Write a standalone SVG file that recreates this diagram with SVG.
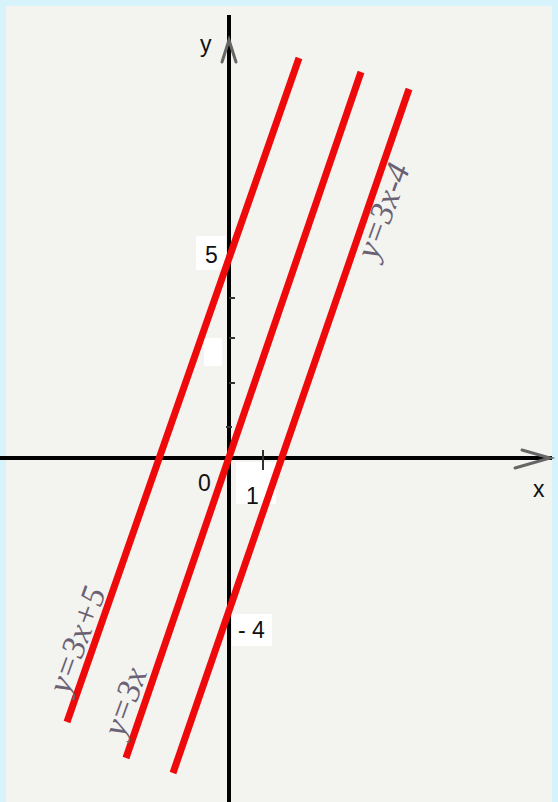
<svg xmlns="http://www.w3.org/2000/svg" width="558" height="802" viewBox="0 0 558 802">
<style>
.ax{stroke:#000;stroke-width:4;fill:none}
.tk{stroke:#333;stroke-width:2;fill:none}
.ah{stroke:#666;stroke-width:3;fill:none;stroke-linecap:round}
.ln{stroke:#ee0a0a;stroke-width:7;fill:none}
.lbl{font-family:"Liberation Sans",Arial,sans-serif;font-size:23px;fill:#111}
.hw{font-family:"Liberation Serif",serif;font-style:italic;font-size:34px;fill:#6a6274}
.wp{fill:#ffffff}
</style>
<rect x="0" y="0" width="558" height="802" fill="#d6f3fb"/>
<rect x="6" y="6" width="546" height="796" fill="#f3f3f0"/>
<g id="patches">
<rect class="wp" x="196" y="236" width="30" height="34"/>
<rect class="wp" x="204" y="338" width="18" height="28"/>
<rect class="wp" x="236" y="462" width="40" height="42"/>
<rect class="wp" x="232" y="614" width="40" height="32"/>
</g>
<g id="axes">
<line class="ax" x1="0" y1="458" x2="552" y2="458"/>
<line class="ax" x1="229" y1="15" x2="229" y2="802"/>
<polyline class="ah" points="522,450 550,458 515,468"/>
<polyline class="ah" points="222,62 229,40 236,62"/>
<line class="tk" x1="263" y1="450" x2="263" y2="470"/>
<line class="tk" x1="229" y1="298" x2="235" y2="298"/>
<line class="tk" x1="229" y1="338" x2="235" y2="338"/>
<line class="tk" x1="229" y1="383" x2="235" y2="383"/>
<line class="tk" x1="226" y1="427" x2="232" y2="427"/>
</g>
<g id="axis-labels">
<text class="lbl" x="200" y="52">y</text>
<text class="lbl" x="533" y="497">x</text>
<text class="lbl" x="198" y="491">0</text>
<text class="lbl" x="246" y="504">1</text>
<text class="lbl" x="205" y="263">5</text>
<text class="lbl" x="238" y="638">- 4</text>
</g>
<g id="connectors">
<line id="line-3x5" class="ln" x1="299" y1="58" x2="67" y2="722"/>
<line id="line-3x" class="ln" x1="361" y1="72" x2="126" y2="758"/>
<line id="line-3x-4" class="ln" x1="409" y1="89" x2="173" y2="773"/>
</g>
<g id="label-3x5"><text class="hw" transform="translate(78,640) rotate(-70)" text-anchor="middle" dy="10">y=3x+5</text></g>
<g id="label-3x"><text class="hw" transform="translate(126,702) rotate(-70)" text-anchor="middle" dy="10">y=3x</text></g>
<g id="label-3x-4"><text class="hw" transform="translate(384,211) rotate(-70)" text-anchor="middle" dy="10">y=3x-4</text></g>
</svg>
